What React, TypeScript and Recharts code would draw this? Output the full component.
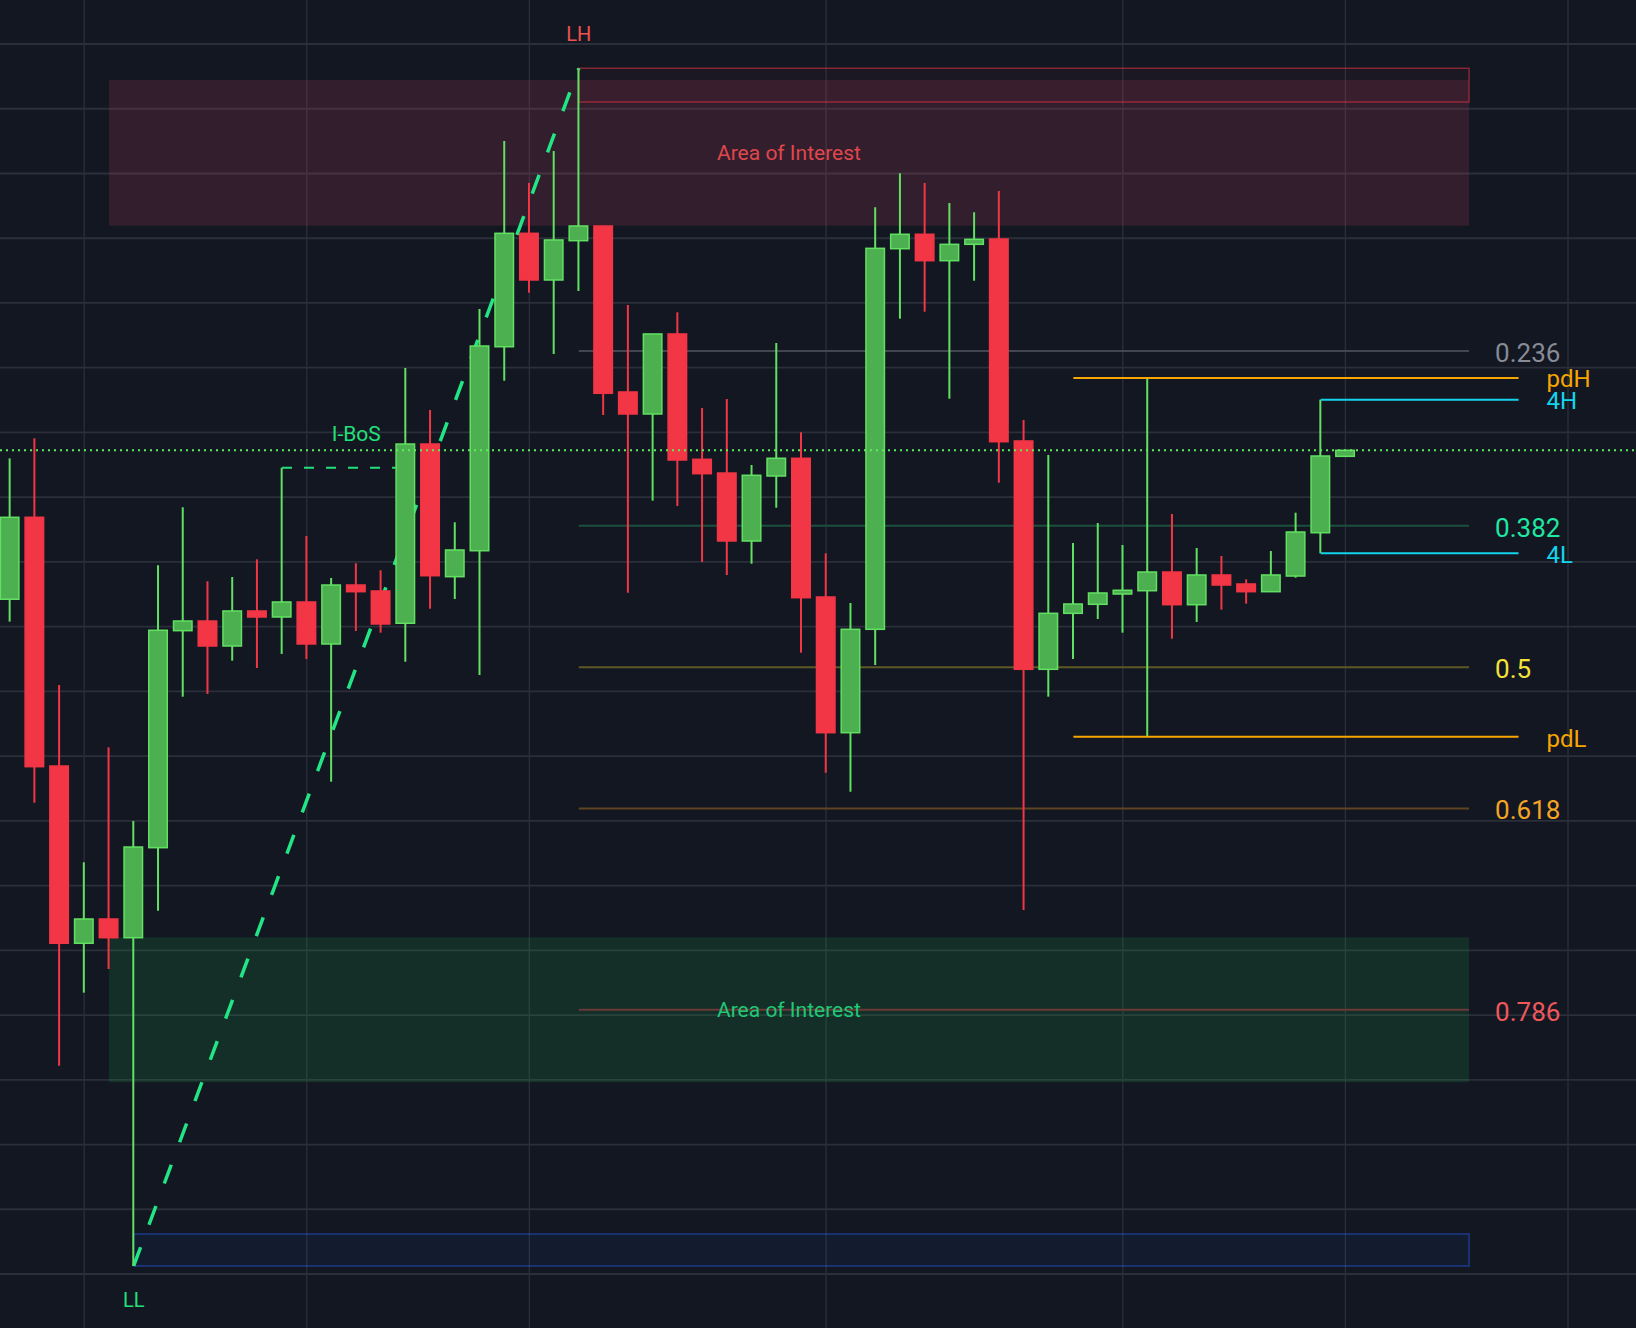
import React from 'react';
import {
  ComposedChart,
  Bar,
  XAxis,
  YAxis,
  ReferenceLine,
  ReferenceArea,
  ReferenceDot,
  Label,
} from 'recharts';

// OHLC, one value per candle (55 candles)
const OPEN = [
  1104.23, 1116.89, 1078.47, 1051.09, 1054.84, 1051.95, 1065.86, 1099.38, 1100.87, 1097.01,
  1102.42, 1101.49, 1103.81, 1097.32, 1106.43, 1105.51, 1100.52, 1128.21, 1107.72, 1111.73,
  1143.24, 1160.76, 1153.55, 1159.62, 1161.89, 1136.25, 1132.85, 1145.21, 1125.85, 1123.73,
  1113.23, 1123.27, 1126.01, 1104.58, 1083.62, 1099.59, 1158.38, 1160.61, 1156.53, 1159.06,
  1159.88, 1128.68, 1093.41, 1102.06, 1103.45, 1105.04, 1105.55, 1108.44, 1103.39, 1107.98,
  1106.59, 1105.4, 1107.82, 1114.51, 1126.31,
];
const HIGH = [
  1126.0, 1129.09, 1090.99, 1063.6, 1081.36, 1069.98, 1109.48, 1118.44, 1107.01, 1107.67,
  1110.4, 1124.55, 1114.0, 1107.52, 1109.79, 1108.7, 1139.95, 1133.47, 1116.12, 1149.07,
  1175.02, 1168.53, 1173.47, 1186.25, 1161.89, 1149.69, 1145.21, 1148.56, 1133.78, 1135.17,
  1124.97, 1143.82, 1130.02, 1111.33, 1103.65, 1164.78, 1170.03, 1168.53, 1165.44, 1164.01,
  1167.3, 1131.92, 1126.52, 1112.92, 1116.01, 1112.61, 1138.41, 1117.4, 1112.15, 1110.91,
  1107.31, 1111.69, 1117.6, 1135.06, 1127.24,
];
const LOW = [
  1100.77, 1072.81, 1032.18, 1043.46, 1047.12, 1001.24, 1056.12, 1089.18, 1089.6, 1094.74,
  1093.61, 1095.78, 1095.0, 1076.05, 1099.33, 1099.07, 1094.59, 1102.77, 1104.27, 1092.53,
  1137.99, 1151.59, 1142.12, 1151.85, 1132.69, 1105.25, 1119.46, 1118.64, 1109.99, 1107.98,
  1109.72, 1118.37, 1095.98, 1077.44, 1074.5, 1094.08, 1147.57, 1148.65, 1135.21, 1153.44,
  1122.24, 1056.23, 1089.18, 1095.0, 1101.18, 1099.07, 1083.0, 1098.14, 1100.72, 1102.62,
  1103.55, 1105.4, 1107.56, 1111.33, 1126.31,
];
const CLOSE = [
  1116.89, 1078.37, 1051.09, 1054.84, 1051.95, 1065.96, 1099.44, 1100.87, 1097.01, 1102.42,
  1101.49, 1103.81, 1097.32, 1106.43, 1105.4, 1100.41, 1128.21, 1107.87, 1111.84, 1143.35,
  1160.76, 1153.55, 1159.73, 1161.89, 1136.05, 1132.85, 1145.21, 1125.74, 1123.63, 1113.23,
  1123.38, 1126.01, 1104.47, 1083.62, 1099.59, 1158.44, 1160.61, 1156.53, 1159.06, 1159.83,
  1128.57, 1093.41, 1102.06, 1103.5, 1105.2, 1105.62, 1108.44, 1103.39, 1107.98, 1106.43,
  1105.4, 1107.98, 1114.62, 1126.36, 1127.24,
];

// grid
const GRID_PRICES = [
  1000, 1010, 1020, 1030, 1040, 1050, 1060, 1070, 1080, 1090,
  1100, 1110, 1120, 1130, 1140, 1150, 1160, 1170, 1180, 1190,
];
const GRID_BARS = [3, 12, 21, 33, 45, 54, 63];

// structure points (bar indexes)
const LL_BAR = 5;
const LH_BAR = 23;
const IBOS_BAR = 11;
const IBOS_END = 15.6;
const IBOS_LABEL_AT = 14;
const PREV_DAY_BAR = 46;
const H4_BAR = 53;

// fibonacci retracement of the LH -> LL leg
const FIB_RATIOS = [0.236, 0.382, 0.5, 0.618, 0.786];
const FIB_LABELS = ['0.236', '0.382', '0.5', '0.618', '0.786'];

// zones (prices) and drawing extents (bar indexes)
const SUPPLY_ZONE = [1184.44, 1161.94];
const DEMAND_ZONE = [1052.01, 1029.62];
const HIGH_BOX_BOTTOM = 1181.04;
const LOW_BOX_TOP = 1006.18;
const ZONE_START = 4;
const DRAW_END = 59;
const LEVEL_END = 61;

const X_DOMAIN = [-0.4044, 65.75];
const Y_DOMAIN = [991.66, 1196.8];

const FONT = 'Roboto, "Noto Sans", sans-serif';
const BG = '#131722';
const GRID = '#2b2f3a';
const UP = '#4caf50';
const UP_EDGE = '#62e062';
const DOWN = '#f23645';
const PD_COLOR = '#f7a600';
const H4_COLOR = '#14d4ec';

const FIB_LINE_COLORS = ['#434651', '#1c4f3d', '#5c5926', '#5e4421', '#6b3a36'];
const FIB_TEXT_COLORS = ['#878b96', '#1fe8a2', '#f5e33a', '#f5a524', '#f0575b'];

const data = OPEN.map((open, i) => ({
  i,
  open,
  high: HIGH[i],
  low: LOW[i],
  close: CLOSE[i],
}));

const lhPrice = HIGH[LH_BAR];
const llPrice = LOW[LL_BAR];
const fibLevels = FIB_RATIOS.map((r) => lhPrice - r * (lhPrice - llPrice));
const pdH = HIGH[PREV_DAY_BAR];
const pdL = LOW[PREV_DAY_BAR];
const h4H = HIGH[H4_BAR];
const h4L = LOW[H4_BAR];
const lastClose = CLOSE[CLOSE.length - 1];

const Candle = (props: any) => {
  const { x, y, width, height, payload } = props;
  if (!payload) return null;
  const { open, close, high, low } = payload;
  const top = Math.min(y, y + height);
  const span = Math.abs(height);
  const k = high > low ? span / (high - low) : 0;
  const py = (v: number) => top + (high - v) * k;
  const up = close >= open;
  const cx = x + width / 2;
  const bTop = py(Math.max(open, close));
  const bBot = py(Math.min(open, close));
  return (
    <g>
      <line x1={cx} x2={cx} y1={top} y2={top + span} stroke={up ? UP_EDGE : DOWN} strokeWidth={2} />
      <rect
        x={x + 0.75}
        y={bTop}
        width={width - 1.5}
        height={Math.max(bBot - bTop, 1)}
        fill={up ? UP : DOWN}
        stroke={up ? UP_EDGE : DOWN}
        strokeWidth={1.5}
      />
    </g>
  );
};

const textShape =
  (text: string, color: string, size: number, dx: number, dy: number, anchor = 'start') =>
  (p: any) => (
    <text
      x={p.cx + dx}
      y={p.cy + dy}
      fill={color}
      fontSize={size}
      fontFamily={FONT}
      textAnchor={anchor}
      dominantBaseline="central"
    >
      {text}
    </text>
  );

const App = () => {
  return (
    <div style={{ width: 1636, height: 1328, background: BG }}>
      <style>{`body{margin:0;background:${BG};}`}</style>
      <ComposedChart
        width={1636}
        height={1328}
        data={data}
        margin={{ top: 0, right: 0, bottom: 0, left: 0 }}
      >
        <XAxis type="number" dataKey="i" domain={X_DOMAIN} allowDataOverflow hide />
        <YAxis type="number" domain={Y_DOMAIN} allowDataOverflow hide />

        {GRID_PRICES.map((p) => (
          <ReferenceLine key={'gy' + p} y={p} stroke={GRID} strokeWidth={1.8} zIndex={-100} />
        ))}
        {GRID_BARS.map((b) => (
          <ReferenceLine key={'gx' + b} x={b} stroke={GRID} strokeWidth={1.3} zIndex={-100} />
        ))}

        <ReferenceArea
          x1={ZONE_START}
          x2={DRAW_END}
          y1={SUPPLY_ZONE[0]}
          y2={SUPPLY_ZONE[1]}
          fill="#f0506a"
          fillOpacity={0.14}
          stroke="none"
          zIndex={100}
        >
          <Label value="Area of Interest" position="center" fill="#e0474c" fontSize={21} fontFamily={FONT} />
        </ReferenceArea>
        <ReferenceArea
          x1={LH_BAR}
          x2={DRAW_END}
          y1={HIGH_BOX_BOTTOM}
          y2={lhPrice}
          fill={DOWN}
          fillOpacity={0.04}
          stroke={DOWN}
          strokeOpacity={0.5}
          strokeWidth={1.5}
          zIndex={100}
        />
        <ReferenceArea
          x1={ZONE_START}
          x2={DRAW_END}
          y1={DEMAND_ZONE[0]}
          y2={DEMAND_ZONE[1]}
          fill="#17a34a"
          fillOpacity={0.18}
          stroke="none"
          zIndex={100}
        >
          <Label value="Area of Interest" position="center" fill="#20c878" fontSize={21} fontFamily={FONT} />
        </ReferenceArea>
        <ReferenceArea
          x1={LL_BAR}
          x2={DRAW_END}
          y1={llPrice}
          y2={LOW_BOX_TOP}
          fill="#2962ff"
          fillOpacity={0.06}
          stroke="#2962ff"
          strokeOpacity={0.45}
          strokeWidth={1.5}
          zIndex={100}
        />

        {fibLevels.map((lvl, k) => (
          <ReferenceLine
            key={'fib' + k}
            segment={[
              { x: LH_BAR, y: lvl },
              { x: DRAW_END, y: lvl },
            ]}
            stroke={FIB_LINE_COLORS[k]}
            strokeWidth={2}
            zIndex={150}
          />
        ))}

        <ReferenceLine
          segment={[
            { x: LL_BAR, y: llPrice },
            { x: LH_BAR, y: lhPrice },
          ]}
          stroke="#22e686"
          strokeWidth={3.5}
          strokeDasharray="20 24"
          zIndex={160}
        />
        <ReferenceLine
          segment={[
            { x: IBOS_BAR, y: HIGH[IBOS_BAR] },
            { x: IBOS_END, y: HIGH[IBOS_BAR] },
          ]}
          stroke="#22e07c"
          strokeWidth={2}
          strokeDasharray="10 12"
          zIndex={160}
        />

        <Bar
          dataKey={(d: any) => [d.low, d.high]}
          shape={Candle}
          barSize={20}
          isAnimationActive={false}
          zIndex={300}
        />

        <ReferenceLine y={lastClose} stroke="#5ded5d" strokeWidth={2} strokeDasharray="2 4" zIndex={400} />

        <ReferenceLine segment={[{ x: PREV_DAY_BAR - 3, y: pdH }, { x: LEVEL_END, y: pdH }]} stroke={PD_COLOR} strokeWidth={2} zIndex={400} />
        <ReferenceLine segment={[{ x: PREV_DAY_BAR - 3, y: pdL }, { x: LEVEL_END, y: pdL }]} stroke={PD_COLOR} strokeWidth={2} zIndex={400} />
        <ReferenceLine segment={[{ x: H4_BAR, y: h4H }, { x: LEVEL_END, y: h4H }]} stroke={H4_COLOR} strokeWidth={2} zIndex={400} />
        <ReferenceLine segment={[{ x: H4_BAR, y: h4L }, { x: LEVEL_END, y: h4L }]} stroke={H4_COLOR} strokeWidth={2} zIndex={400} />

        {fibLevels.map((lvl, k) => (
          <ReferenceDot
            key={'fl' + k}
            x={DRAW_END}
            y={lvl}
            r={1}
            zIndex={600}
            shape={textShape(FIB_LABELS[k], FIB_TEXT_COLORS[k], 26, 26, 2)}
          />
        ))}
        <ReferenceDot x={LEVEL_END} y={pdH} r={1} zIndex={600} shape={textShape('pdH', PD_COLOR, 24, 28, 1.5)} />
        <ReferenceDot x={LEVEL_END} y={pdL} r={1} zIndex={600} shape={textShape('pdL', PD_COLOR, 24, 28, 2.5)} />
        <ReferenceDot x={LEVEL_END} y={h4H} r={1} zIndex={600} shape={textShape('4H', H4_COLOR, 24, 28, 1.5)} />
        <ReferenceDot x={LEVEL_END} y={h4L} r={1} zIndex={600} shape={textShape('4L', H4_COLOR, 24, 28, 2)} />

        <ReferenceDot x={LH_BAR} y={lhPrice} r={1} zIndex={600} shape={textShape('LH', '#ef5350', 20, 0, -34, 'middle')} />
        <ReferenceDot x={LL_BAR} y={llPrice} r={1} zIndex={600} shape={textShape('LL', '#22e07c', 20, 0, 34, 'middle')} />
        <ReferenceDot
          x={IBOS_LABEL_AT}
          y={HIGH[IBOS_BAR]}
          r={1}
          zIndex={600}
          shape={textShape('I-BoS', '#22e07c', 21, 0, -34, 'middle')}
        />
      </ComposedChart>
    </div>
  );
};

export default App;
